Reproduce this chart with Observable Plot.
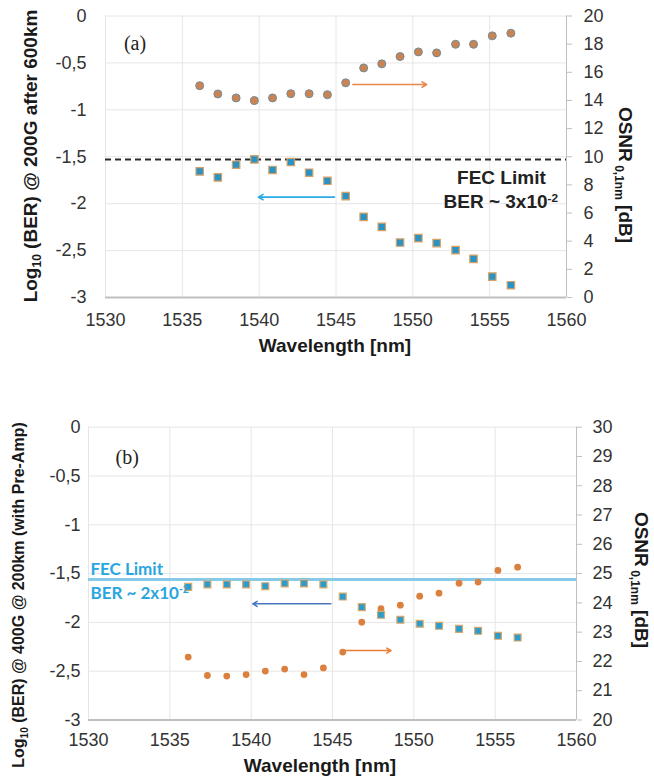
<!DOCTYPE html>
<html><head><meta charset="utf-8">
<script src="https://cdn.jsdelivr.net/npm/d3@7"></script>
<script src="https://cdn.jsdelivr.net/npm/@observablehq/plot@0.6"></script>
<style>
body{margin:0;background:#fff;}
#wrap{width:654px;height:776px;overflow:hidden;}
#wrap svg{display:block;}
</style></head><body><div id="wrap"></div>
<script>
// ---- data ----
const wavelengths = [1536.13,1537.31,1538.5,1539.69,1540.87,1542.06,1543.25,1544.44,1545.63,1546.8,1547.98,1549.17,1550.36,1551.55,1552.78,1553.95,1555.17,1556.38];
const osnrA = [15.05,14.46,14.18,13.99,14.18,14.48,14.48,14.41,15.25,16.31,16.6,17.12,17.45,17.38,17.99,17.99,18.59,18.78];
const berA  = [-1.656,-1.72,-1.585,-1.528,-1.641,-1.556,-1.67,-1.756,-1.919,-2.14,-2.247,-2.414,-2.367,-2.42,-2.495,-2.588,-2.777,-2.869];
const osnrB = [22.15,21.52,21.5,21.55,21.67,21.74,21.55,21.78,22.32,23.34,23.8,23.92,24.23,24.33,24.67,24.71,25.11,25.22];
const berB  = [-1.636,-1.611,-1.611,-1.611,-1.629,-1.601,-1.601,-1.611,-1.735,-1.844,-1.922,-1.973,-2.014,-2.035,-2.066,-2.086,-2.137,-2.155];
const wavelengthTicks = [1530,1535,1540,1545,1550,1555,1560];
const berTicks = [0,-0.5,-1,-1.5,-2,-2.5,-3];
const osnrTicksA = [0,2,4,6,8,10,12,14,16,18,20];
const osnrTicksB = [20,21,22,23,24,25,26,27,28,29,30];
const fecLevelA = -1.53;
const fecLevelB = -1.56;
const fecTextA = ["FEC Limit","BER ~ 3x10"];
const fecTextB = ["FEC Limit","BER ~ 2x10"];
const fecExponent = "-2";
const panelNames = ["(a)","(b)"];
const yTitleA = ["Log","10"," (BER) @ 200G after 600km"];
const yTitleB = ["Log","10"," (BER) @ 400G @ 200km (with Pre-Amp)"];
const y2Title = ["OSNR"," 0,1nm"," [dB]"];
const xTitle = "Wavelength [nm]";
// arrows: [from wavelength, to wavelength, level]
const osnrArrowA = [1546.1,1550.9,15.13];
const berArrowA  = [1544.9,1539.95,-1.93];
const osnrArrowB = [1545.8,1548.6,22.37];
const berArrowB  = [1544.9,1540.1,-1.81];

const BER_MIN=-3, BER_MAX=0;
const toY = (o,[lo,hi]) => BER_MIN + (o-lo)/(hi-lo)*(BER_MAX-BER_MIN);
const fromY = (v,[lo,hi]) => lo + (v-BER_MIN)/(BER_MAX-BER_MIN)*(hi-lo);
const commaFmt = d => String(d).replace(".",",");

const GRID="#E6E6E6", AXIS="#BFBFBF", TXT="#333";
const TICK_FONT = 18;

function panel(opts){
  const {height, mt, mb, ml, mr, osnr, ber, osnrTicks, range, fecMark, texts, arrows, dotStyle, sqStyle, leftPad, rightPad, xPad} = opts;
  const rows = wavelengths.map((w,i)=>({w, o: toY(osnr[i],range), b: ber[i]}));
  return Plot.plot({
    width:654, height, marginTop:mt, marginBottom:mb, marginLeft:ml, marginRight:mr,
    style:{fontFamily:"Arial, 'Liberation Sans', sans-serif", background:"#fff", overflow:"visible"},
    x:{domain:[1530,1560]},
    y:{domain:[BER_MIN,BER_MAX]},
    marks:[
      Plot.gridX(wavelengthTicks,{stroke:GRID,strokeOpacity:1}),
      Plot.gridY(berTicks,{stroke:GRID,strokeOpacity:1}),
      Plot.ruleY([BER_MIN],{stroke:AXIS,strokeWidth:2}),
      Plot.ruleX([1560],{stroke:AXIS,strokeWidth:1}),
      fecMark(),
      Plot.axisX(wavelengthTicks,{tickSize:0,tickPadding:xPad,fontSize:TICK_FONT,fill:TXT,tickFormat:d=>String(d),label:null}),
      Plot.axisY(berTicks,{anchor:"left",tickSize:0,tickPadding:leftPad,fontSize:TICK_FONT,fill:TXT,tickFormat:commaFmt,label:null}),
      Plot.axisY(osnrTicks.map(o=>toY(o,range)),{anchor:"right",tickSize:5,tickPadding:rightPad,stroke:AXIS,fill:TXT,fontSize:TICK_FONT,
        tickFormat:v=>String(Math.round(fromY(v,range))),label:null}),
      ...arrows,
      Plot.dot(rows,{x:"w",y:"o",symbol:"circle",...dotStyle}),
      Plot.dot(rows,{x:"w",y:"b",symbol:"square",...sqStyle}),
      ...texts
    ]
  });
}

// ---- panel (a) ----
const svgA = panel({
  height:365, mt:15.5, mb:68, ml:105, mr:88,
  osnr:osnrA, ber:berA, osnrTicks:osnrTicksA, range:[0,20],
  leftPad:19, rightPad:12, xPad:16,
  fecMark: () => Plot.ruleY([fecLevelA],{stroke:"#2b2b2b",strokeWidth:2,strokeDasharray:"6,4"}),
  dotStyle:{r:4,fill:"#CB8451",stroke:"#6F8C9C",strokeWidth:1},
  sqStyle:{r:4.2,fill:"#2A93C4",stroke:"#D9A264",strokeWidth:1.2},
  arrows:[
    Plot.arrow([0],{x1:osnrArrowA[0],x2:osnrArrowA[1],y1:toY(osnrArrowA[2],[0,20]),y2:toY(osnrArrowA[2],[0,20]),stroke:"#E8884A",strokeWidth:1.6,headLength:5}),
    Plot.arrow([0],{x1:berArrowA[0],x2:berArrowA[1],y1:berArrowA[2],y2:berArrowA[2],stroke:"#2AAAE2",strokeWidth:1.6,headLength:5})
  ],
  texts:[
    Plot.text([panelNames[0]],{x:1531.2,y:-0.29,text:d=>d,textAnchor:"start",fontFamily:"'Liberation Serif', 'Times New Roman', serif",fontSize:20,fill:"#222"}),
    Plot.text([fecTextA[0]],{x:1558.65,y:-1.722,text:d=>d,textAnchor:"end",fontSize:19,fontWeight:"bold",fill:"#222"}),
    Plot.text([fecTextA[1]],{x:1559.45,y:-1.978,text:d=>d,textAnchor:"end",fontSize:19,fontWeight:"bold",fill:"#222"})
  ]
});

// ---- panel (b) ----
const svgB = panel({
  height:411, mt:61.7, mb:56.5, ml:88, mr:78,
  osnr:osnrB, ber:berB, osnrTicks:osnrTicksB, range:[20,30],
  leftPad:8, rightPad:11, xPad:13,
  fecMark: () => Plot.ruleY([fecLevelB],{stroke:"#86CAE8",strokeWidth:3}),
  dotStyle:{r:3.4,fill:"#DC8040",stroke:"none"},
  sqStyle:{r:3.9,fill:"#2C9CCB",stroke:"#D9A86E",strokeWidth:1.2},
  arrows:[
    Plot.arrow([0],{x1:osnrArrowB[0],x2:osnrArrowB[1],y1:toY(osnrArrowB[2],[20,30]),y2:toY(osnrArrowB[2],[20,30]),stroke:"#ED7D31",strokeWidth:1.5,headLength:5}),
    Plot.arrow([0],{x1:berArrowB[0],x2:berArrowB[1],y1:berArrowB[2],y2:berArrowB[2],stroke:"#4A78C0",strokeWidth:1.5,headLength:5})
  ],
  texts:[
    Plot.text([panelNames[1]],{x:1531.66,y:-0.307,text:d=>d,textAnchor:"start",fontFamily:"'Liberation Serif', 'Times New Roman', serif",fontSize:20,fill:"#222"}),
    Plot.text([fecTextB[0]],{x:1530.12,y:-1.461,text:d=>d,textAnchor:"start",fontFamily:"Lato, 'Open Sans', sans-serif",fontSize:17,fontWeight:"bold",fill:"#2AA6DE"}),
    Plot.text([fecTextB[1]],{x:1530.12,y:-1.70,text:d=>d,textAnchor:"start",fontFamily:"Lato, 'Open Sans', sans-serif",fontSize:17,fontWeight:"bold",fill:"#2AA6DE"})
  ]
});

const wrap = document.getElementById("wrap");
wrap.appendChild(svgA);
wrap.appendChild(svgB);

// superscript exponents
[[svgA,fecTextA[1]],[svgB,fecTextB[1]]].forEach(([svg,t])=>{
  d3.select(svg).selectAll("text").filter(function(){return this.textContent===t;})
    .append("tspan").attr("dy","-0.5em").attr("font-size","0.62em").text(fecExponent);
});

// axis titles
function title(svg,{x,y,rot,size,parts,subSize}){
  const t = d3.select(svg).append("text")
    .attr("transform",`translate(${x},${y}) rotate(${rot})`)
    .attr("text-anchor","middle").attr("dy","0.35em")
    .attr("font-family","Arial, 'Liberation Sans', sans-serif")
    .attr("font-weight","bold").attr("font-size",size).attr("fill","#1a1a1a");
  t.append("tspan").text(parts[0]);
  t.append("tspan").attr("font-size",subSize).attr("dy",subSize*0.4).text(parts[1]);
  t.append("tspan").attr("dy",-subSize*0.4).text(parts[2]);
}
title(svgA,{x:30,y:156,rot:-90,size:19,subSize:12,parts:yTitleA});
title(svgA,{x:626,y:175,rot:90,size:19,subSize:12,parts:y2Title});
title(svgB,{x:18,y:595-365,rot:-90,size:16,subSize:10,parts:yTitleB});
title(svgB,{x:642,y:580-365,rot:90,size:19,subSize:12,parts:y2Title});
d3.select(svgA).append("text").attr("x",335).attr("y",345).attr("dy","0.35em").attr("text-anchor","middle")
  .attr("font-family","Arial, 'Liberation Sans', sans-serif").attr("font-weight","bold").attr("font-size",19).attr("fill","#1a1a1a").text(xTitle);
d3.select(svgB).append("text").attr("x",320).attr("y",765-365).attr("dy","0.35em").attr("text-anchor","middle")
  .attr("font-family","Arial, 'Liberation Sans', sans-serif").attr("font-weight","bold").attr("font-size",19).attr("fill","#1a1a1a").text(xTitle);
</script>
</body></html>
